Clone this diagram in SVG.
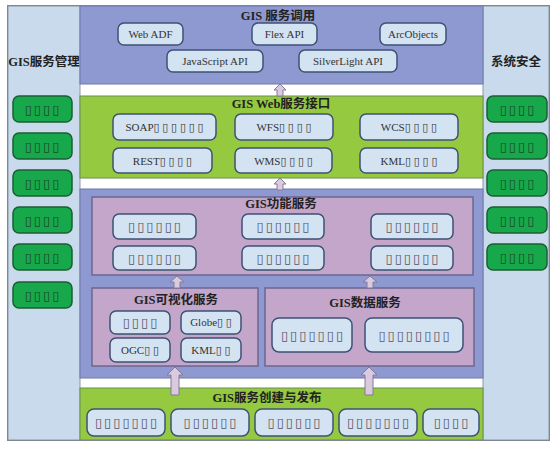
<svg xmlns="http://www.w3.org/2000/svg" width="559" height="449" viewBox="0 0 559 449">
<style>
.col{fill:#c8daeb;stroke:#8b98a6;stroke-width:1}
.blue{fill:#8e99d1;stroke:#6f79a8;stroke-width:1}
.green{fill:#94c940;stroke:#6f8c52;stroke-width:1}
.purple{fill:#c3a6c9;stroke:#6c6790;stroke-width:1.5}
.lb{fill:#d4e3f2;stroke:#3e5273;stroke-width:1.5}
.gb{fill:#17a84b;stroke:#1b5e35;stroke-width:1.5}
.title{font-family:"Liberation Serif","Noto Sans CJK SC",serif;font-size:12.5px;font-weight:bold;fill:#222;text-anchor:middle}
.lbl{font-family:"Liberation Serif","DejaVu Sans",serif;font-size:11px;fill:#333;text-anchor:middle}
.tofu{font-family:"DejaVu Sans",sans-serif;font-size:13px;fill:#556;text-anchor:middle;letter-spacing:2px}
.gtofu{font-family:"DejaVu Sans",sans-serif;font-size:13px;fill:#1d4a2a;text-anchor:middle;letter-spacing:2px}
.arrow{fill:#d9cadf;stroke:#857a95;stroke-width:1}
</style>
<rect x="0" y="0" width="559" height="449" fill="#ffffff"/>
<g id="left-column">
<rect class="col" x="8" y="6" width="72" height="434"/>
<text class="title" x="44" y="66">GIS服务管理</text>
<rect class="gb" x="13" y="96" width="59" height="26" rx="6"/><text class="gtofu" x="43" y="114">▯▯▯▯</text>
<rect class="gb" x="13" y="133" width="59" height="26" rx="6"/><text class="gtofu" x="43" y="151">▯▯▯▯</text>
<rect class="gb" x="13" y="170" width="59" height="26" rx="6"/><text class="gtofu" x="43" y="188">▯▯▯▯</text>
<rect class="gb" x="13" y="207" width="59" height="26" rx="6"/><text class="gtofu" x="43" y="225">▯▯▯▯</text>
<rect class="gb" x="13" y="244" width="59" height="26" rx="6"/><text class="gtofu" x="43" y="262">▯▯▯▯</text>
<rect class="gb" x="13" y="282" width="59" height="26" rx="6"/><text class="gtofu" x="43" y="300">▯▯▯▯</text>
</g>
<g id="right-column">
<rect class="col" x="483" y="6" width="66" height="434"/>
<text class="title" x="516" y="66">系统安全</text>
<rect class="gb" x="487" y="96" width="60" height="26" rx="6"/><text class="gtofu" x="518" y="114">▯▯▯▯</text>
<rect class="gb" x="487" y="133" width="60" height="26" rx="6"/><text class="gtofu" x="518" y="151">▯▯▯▯</text>
<rect class="gb" x="487" y="170" width="60" height="26" rx="6"/><text class="gtofu" x="518" y="188">▯▯▯▯</text>
<rect class="gb" x="487" y="207" width="60" height="26" rx="6"/><text class="gtofu" x="518" y="225">▯▯▯▯</text>
<rect class="gb" x="487" y="244" width="60" height="26" rx="6"/><text class="gtofu" x="518" y="262">▯▯▯▯</text>
</g>
<g id="service-call">
<rect class="blue" x="80" y="6" width="403" height="78"/>
<text class="title" x="278" y="20">GIS 服务调用</text>
<rect class="lb" x="118" y="23" width="65" height="22" rx="6"/><text class="lbl" x="150.5" y="38">Web ADF</text>
<rect class="lb" x="252" y="23" width="65" height="22" rx="6"/><text class="lbl" x="284.5" y="38">Flex API</text>
<rect class="lb" x="380" y="23" width="66" height="22" rx="6"/><text class="lbl" x="413" y="38">ArcObjects</text>
<rect class="lb" x="167" y="50" width="96" height="22" rx="6"/><text class="lbl" x="215" y="65">JavaScript API</text>
<rect class="lb" x="299" y="50" width="98" height="22" rx="6"/><text class="lbl" x="348" y="65">SilverLight API</text>
</g>
<g id="web-interface">
<rect class="green" x="80" y="96" width="403" height="82"/>
<text class="title" x="281" y="108">GIS Web服务接口</text>
<rect class="lb" x="113" y="114" width="103" height="26" rx="6"/><text class="lbl" x="164.5" y="131">SOAP▯ ▯ ▯ ▯ ▯ ▯</text>
<rect class="lb" x="113" y="148" width="99" height="25" rx="6"/><text class="lbl" x="162.5" y="164.5">REST▯ ▯ ▯ ▯</text>
<rect class="lb" x="235" y="114" width="98" height="26" rx="6"/><text class="lbl" x="284" y="131">WFS▯ ▯ ▯ ▯</text>
<rect class="lb" x="235" y="148" width="97" height="25" rx="6"/><text class="lbl" x="283.5" y="164.5">WMS▯ ▯ ▯ ▯</text>
<rect class="lb" x="360" y="114" width="98" height="26" rx="6"/><text class="lbl" x="409" y="131">WCS▯ ▯ ▯ ▯</text>
<rect class="lb" x="360" y="148" width="98" height="25" rx="6"/><text class="lbl" x="409" y="164.5">KML▯ ▯ ▯ ▯</text>
</g>
<rect class="blue" x="80" y="189" width="403" height="189"/>
<g id="function-service">
<rect class="purple" x="92" y="197" width="381" height="78"/>
<text class="title" x="281" y="208">GIS功能服务</text>
<rect class="lb" x="113" y="214" width="83" height="25" rx="6"/><text class="tofu" x="155.5" y="231">▯▯▯▯▯▯</text>
<rect class="lb" x="113" y="246" width="83" height="24" rx="6"/><text class="tofu" x="155.5" y="263">▯▯▯▯▯▯</text>
<rect class="lb" x="242" y="214" width="82" height="25" rx="6"/><text class="tofu" x="284" y="231">▯▯▯▯▯▯</text>
<rect class="lb" x="242" y="246" width="82" height="24" rx="6"/><text class="tofu" x="284" y="263">▯▯▯▯▯▯</text>
<rect class="lb" x="371" y="214" width="82" height="25" rx="6"/><text class="tofu" x="413" y="231">▯▯▯▯▯▯</text>
<rect class="lb" x="371" y="246" width="82" height="24" rx="6"/><text class="tofu" x="413" y="263">▯▯▯▯▯▯</text>
</g>
<g id="visual-service">
<rect class="purple" x="92" y="288" width="166" height="78"/>
<text class="title" x="176" y="304">GIS可视化服务</text>
<rect class="lb" x="110" y="311" width="60" height="23" rx="6"/><text class="tofu" x="141" y="327">▯▯▯▯</text>
<rect class="lb" x="181" y="311" width="60" height="23" rx="6"/><text class="lbl" x="211" y="326">Globe▯ ▯</text>
<rect class="lb" x="110" y="338" width="60" height="24" rx="6"/><text class="lbl" x="140" y="354">OGC▯ ▯</text>
<rect class="lb" x="181" y="338" width="60" height="24" rx="6"/><text class="lbl" x="211" y="354">KML▯ ▯</text>
</g>
<g id="data-service">
<rect class="purple" x="265" y="288" width="209" height="78"/>
<text class="title" x="365" y="307">GIS数据服务</text>
<rect class="lb" x="272" y="318" width="80" height="34" rx="7"/><text class="tofu" x="313" y="340">▯▯▯▯▯▯▯</text>
<rect class="lb" x="365" y="318" width="98" height="34" rx="7"/><text class="tofu" x="415" y="340">▯▯▯▯▯▯▯▯</text>
</g>
<g id="publish">
<rect class="green" x="80" y="388" width="403" height="52"/>
<text class="title" x="267" y="402">GIS服务创建与发布</text>
<rect class="lb" x="87" y="409" width="78" height="27" rx="7"/><text class="tofu" x="127" y="427">▯▯▯▯▯▯▯</text>
<rect class="lb" x="171" y="409" width="78" height="27" rx="7"/><text class="tofu" x="211" y="427">▯▯▯▯▯▯</text>
<rect class="lb" x="255" y="409" width="78" height="27" rx="7"/><text class="tofu" x="295" y="427">▯▯▯▯▯▯</text>
<rect class="lb" x="339" y="409" width="78" height="27" rx="7"/><text class="tofu" x="379" y="427">▯▯▯▯▯▯▯</text>
<rect class="lb" x="423" y="409" width="56" height="27" rx="7"/><text class="tofu" x="452" y="427">▯▯▯▯</text>
</g>
<g id="connectors">
<path class="arrow" d="M280,84 L286,90 L283,90 L283,96 L277,96 L277,90 L274,90 Z"/>
<path class="arrow" d="M280,178 L286,184 L283,184 L283,190 L277,190 L277,184 L274,184 Z"/>
<path class="arrow" d="M177,276 L184,282 L180,282 L180,288 L174,288 L174,282 L170,282 Z"/>
<path class="arrow" d="M370,276 L377,282 L373,282 L373,288 L367,288 L367,282 L363,282 Z"/>
<path class="arrow" d="M175,367 L183,375 L179,375 L179,395 L171,395 L171,375 L167,375 Z"/>
<path class="arrow" d="M369,367 L377,375 L373,375 L373,395 L365,395 L365,375 L361,375 Z"/>
</g>
<rect x="7.5" y="5.5" width="542" height="435" fill="none" stroke="#7f8890" stroke-width="1"/>
</svg>
